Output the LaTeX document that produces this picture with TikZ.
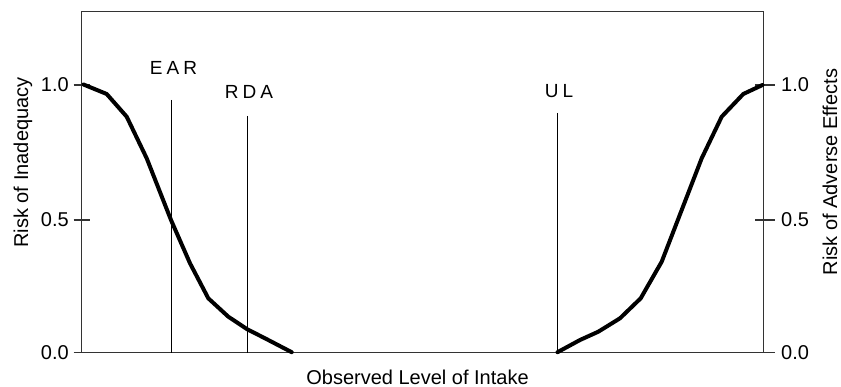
\documentclass[tikz,border=0pt]{standalone}
\usepackage{fontspec}
\setmainfont{Liberation Sans}
\begin{document}
\begin{tikzpicture}[x=1pt,y=-1pt,
  axisline/.style={draw=black!80,line width=1.3pt},
  tickline/.style={draw=black!80,line width=1.1pt},
  markline/.style={draw=black,line width=0.9pt},
  riskcurve/.style={draw=black,line width=4pt,line join=round,line cap=round},
  ticklabel/.style={inner sep=0pt,font=\fontsize{20}{20}\selectfont},
  axislabel/.style={inner sep=0pt,font=\fontsize{20}{20}\selectfont},
  marklabel/.style={inner sep=0pt,anchor=base,font=\fontsize{19}{19}\selectfont}]
\useasboundingbox (0,0) rectangle (841,387);
% frame corners
\coordinate (tl) at (81.7,11.7);
\coordinate (tr) at (763.3,11.7);
\coordinate (bl) at (81.7,352.7);
\coordinate (br) at (763.3,352.7);
\draw[axisline] (tl) -- (tr) -- (br) -- (bl) -- cycle;
% ticks
\foreach \v/\y in {0/352.7,5/220,10/85}{
  \coordinate (lt\v a) at (73.5,\y);
  \coordinate (lt\v b) at (90,\y);
  \coordinate (rt\v a) at (755,\y);
  \coordinate (rt\v b) at (775,\y);
  \draw[tickline] (lt\v a) -- (lt\v b);
  \draw[tickline] (rt\v a) -- (rt\v b);
}
\node[ticklabel,anchor=east] (l10) at (69,85) {1.0};
\node[ticklabel,anchor=east] (l05) at (69,220) {0.5};
\node[ticklabel,anchor=east] (l00) at (69,352.7) {0.0};
\node[ticklabel,anchor=west] (r10) at (781,85) {1.0};
\node[ticklabel,anchor=west] (r05) at (781,220) {0.5};
\node[ticklabel,anchor=west] (r00) at (781,352.7) {0.0};
% axis labels
\node[axislabel,rotate=90] (ylab) at (23,162.5) {Risk of Inadequacy};
\node[axislabel,rotate=90] (y2lab) at (830,172) {Risk of Adverse Effects};
\node[axislabel,anchor=base] (xlab) at (417.5,384.5) {Observed Level of Intake};
% marker lines
\coordinate (eartop) at (171,100);
\coordinate (earbot) at (171,352.7);
\coordinate (rdatop) at (247.3,116);
\coordinate (rdabot) at (247.3,352.7);
\coordinate (ultop) at (557.3,113);
\coordinate (ulbot) at (557.3,352.7);
\draw[markline] (eartop) -- (earbot);
\draw[markline] (rdatop) -- (rdabot);
\draw[markline] (ultop) -- (ulbot);
\node[marklabel] (ear) at (173.5,75) {E\kern4pt A\kern4pt R};
\node[marklabel] (rda) at (249,98.3) {R\kern4pt D\kern4pt A};
\node[marklabel] (ul) at (559,97.3) {U\kern4pt L};
% curves
\draw[riskcurve] (83.5,84.5) -- (106.7,94) -- (126.7,116.7) -- (146.7,158.3) -- (171,220)
  -- (190,263.3) -- (208.3,298.3) -- (228.3,316.7) -- (247.3,329.3) -- (265,338.3) -- (291.7,352.2);
\draw[riskcurve] (557.5,352.2) -- (580,340) -- (598.3,331.7) -- (620,318.3) -- (640.7,298.3)
  -- (661.7,261.7) -- (701.7,158.3) -- (721.7,116.7) -- (743.3,94) -- (762.5,85);
\end{tikzpicture}
\end{document}
